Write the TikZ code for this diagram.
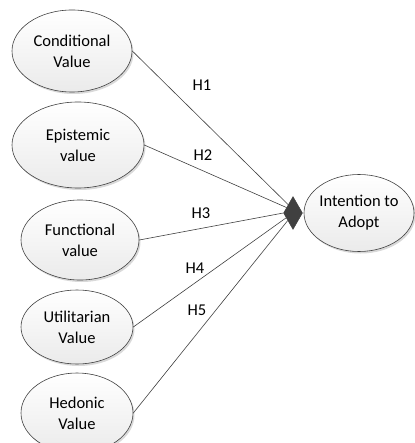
\documentclass[tikz,border=0pt]{standalone}
\usepackage{fontspec}
\setmainfont{Carlito}
\usetikzlibrary{shapes.geometric}
\usetikzlibrary{shadows}

\begin{document}
\begin{tikzpicture} [x=1pt, y=-1pt, every node/.style={font=\fontsize{16.5}{21}\selectfont},
        factor/.style={ellipse, draw=black!75, line width=0.6pt, align=center, inner xsep=-3pt, inner ysep=0pt, top color=white, bottom color=black!8, drop shadow={shadow xshift=1.5pt, shadow yshift=-2pt, fill=black!15, opacity=1}},
        hub/.style={diamond, draw=black!75, fill=black!75, minimum width=19pt, minimum height=33pt, inner sep=0pt},
        link/.style={draw=black!75, line width=0.6pt}]
            \useasboundingbox (0, 0) rectangle (414, 443);

            \node[factor, minimum width=120pt, minimum height=82pt] (cond) at (72, 51)  {Conditional\\Value};
            \node[factor, minimum width=132pt, minimum height=86pt] (epis) at (78, 145) {Epistemic\\value};
            \node[factor, minimum width=118pt, minimum height=80pt] (func) at (80, 240) {Functional\\value};
            \node[factor, minimum width=112pt, minimum height=74pt] (util) at (77, 327) {Utilitarian\\Value};
            \node[factor, minimum width=112pt, minimum height=80pt] (hedo) at (77, 413) {Hedonic\\Value};
            \node[factor, minimum width=110pt, minimum height=77pt] (adopt) at (359, 213) {Intention to\\Adopt};
            \node[hub] (join) at (293, 213) {};

            \foreach \src/\ang in {cond/120, epis/140, func/180, util/215, hedo/235}
                \draw[link] (\src.east) -- (join.\ang);

            \node (h1) at (202, 85)  {H1};
            \node (h2) at (203, 155) {H2};
            \node (h3) at (201, 213) {H3};
            \node (h4) at (195, 268) {H4};
            \node (h5) at (197, 310) {H5};
        \end{tikzpicture}
\end{document}
